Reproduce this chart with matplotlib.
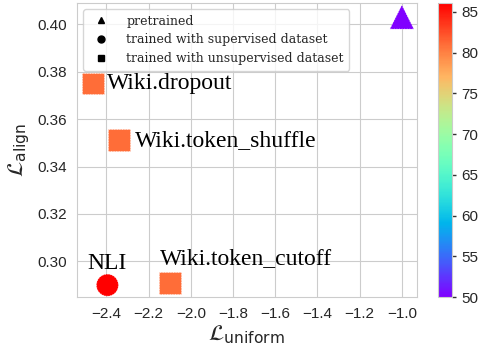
import matplotlib
matplotlib.use("Agg")
import matplotlib.pyplot as plt
import matplotlib.lines as mlines
import seaborn as sns

sns.set_style("whitegrid")
plt.rcParams['font.family'] = ['Liberation Sans', 'DejaVu Sans']

# data
names = ["pretrained", "NLI", "Wiki.dropout", "Wiki.token_shuffle", "Wiki.token_cutoff"]
kinds = ["pre", "sup", "unsup", "unsup", "unsup"]
uniform = [-1.00, -2.395, -2.465, -2.34, -2.10]
align = [0.403, 0.290, 0.375, 0.351, 0.291]
stsb = [50.0, 86.1, 81.0, 81.0, 81.0]
marker_of = {"pre": "^", "sup": "o", "unsup": "s"}
legend_labels = ["pretrained", "trained with supervised dataset", "trained with unsupervised dataset"]

fig = plt.figure(figsize=(4.8, 3.54), dpi=100)
ax = fig.add_axes([0.160, 0.161, 0.708, 0.831])
cax = fig.add_axes([0.9125, 0.161, 0.029, 0.831])

vmin, vmax = min(stsb), max(stsb)
sc = None
for k in ["pre", "sup", "unsup"]:
    idx = [i for i, kk in enumerate(kinds) if kk == k]
    sc = ax.scatter([uniform[i] for i in idx], [align[i] for i in idx],
                    c=[stsb[i] for i in idx], cmap="rainbow", vmin=vmin, vmax=vmax,
                    marker=marker_of[k], s=300 if k == "pre" else 250,
                    edgecolors=(1, 1, 1, 0.6), linewidths=0.7, linestyle=":", zorder=3)

serif = ['Liberation Serif', 'DejaVu Serif']
fs = 17
# labels (pretrained has no text)
ax.text(uniform[1], align[1] + 0.0045, "NLI", ha="center", va="bottom", fontsize=fs,
        family=serif, color="black")
ax.text(uniform[2] + 0.07, align[2], "Wiki.dropout", ha="left", va="center", fontsize=fs,
        family=serif, color="black")
ax.text(uniform[3] + 0.075, align[3], "Wiki.token_shuffle", ha="left", va="center", fontsize=fs,
        family=serif, color="black")
ax.text(uniform[4] - 0.045, align[4] + 0.0058, "Wiki.token_cutoff", ha="left", va="bottom",
        fontsize=fs, family=serif, color="black")

ax.set_xlim(-2.54, -0.93)
ax.set_ylim(0.285, 0.409)
ax.set_xticks([-2.4, -2.2, -2.0, -1.8, -1.6, -1.4, -1.2, -1.0])
ax.set_yticks([0.30, 0.32, 0.34, 0.36, 0.38, 0.40])
ax.tick_params(labelsize=11)
ax.set_xlabel(r"$\mathcal{L}_{\mathrm{uniform}}$", fontsize=16, labelpad=2)
ax.set_ylabel(r"$\mathcal{L}_{\mathrm{align}}$", fontsize=16, labelpad=4)

handles = [mlines.Line2D([], [], color="black", marker=m, linestyle="None", markersize=5)
           for m in ["^", "o", "s"]]
ax.legend(handles, legend_labels, loc="upper left",
          prop={"family": ['DejaVu Serif'], "size": 9},
          frameon=True, borderpad=0.45, labelspacing=0.45, handletextpad=1.0)

cb = fig.colorbar(sc, cax=cax)
cb.set_ticks([50, 55, 60, 65, 70, 75, 80, 85])
cb.ax.tick_params(labelsize=11, length=3, width=1, color="#333333")
cb.outline.set_edgecolor("#cccccc")

fig.savefig("out.png", dpi=100)
